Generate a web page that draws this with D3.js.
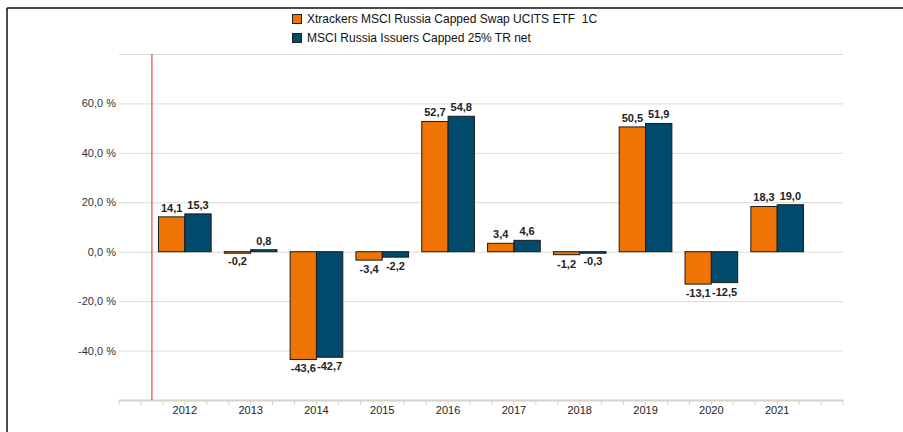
<!DOCTYPE html>
<html><head><meta charset="utf-8">
<script src="https://cdn.jsdelivr.net/npm/d3@7"></script>
<style>body{margin:0;background:#fff}svg{display:block;font-family:"Liberation Sans",Arial,sans-serif}text{white-space:pre}</style>
</head><body><svg id="c" width="903" height="432"></svg>
<script>
const categories = ["2012","2013","2014","2015","2016","2017","2018","2019","2020","2021"];
const seriesNames = ["Xtrackers MSCI Russia Capped Swap UCITS ETF  1C","MSCI Russia Issuers Capped 25% TR net"];
const etfValues = [14.1,-0.2,-43.6,-3.4,52.7,3.4,-1.2,50.5,-13.1,18.3];
const indexValues = [15.3,0.8,-42.7,-2.2,54.8,4.6,-0.3,51.9,-12.5,19.0];
const yTicks = [-40,-20,0,20,40,60];
const gridTicks = [-40,-20,0,20,40,60,80];
const colors = ["#ef7404","#024a6c"];

const fmt = d => d3.format(".1f")(d).replace("−","-").replace(".",",");
const svg = d3.select("#c");
const L = 119, R = 843, T = 54, B = 400;
const y = d3.scaleLinear().domain([-60,80]).range([B,T]);
const x = d3.scaleLinear().domain([-1,categories.length]).range([L,R]);
const step = x(1)-x(0);
const bw = step*0.4;

// frame
svg.append("line").attr("x1",7).attr("x2",7).attr("y1",8).attr("y2",432).attr("stroke","#111").attr("stroke-width",1.5);
svg.append("line").attr("x1",7).attr("x2",903).attr("y1",8).attr("y2",8).attr("stroke","#111").attr("stroke-width",1.5);

// grid
svg.append("g").selectAll("line").data(gridTicks).join("line")
  .attr("x1",L).attr("x2",R).attr("y1",d=>y(d)+0.5).attr("y2",d=>y(d)+0.5)
  .attr("stroke","#dcdad3").attr("stroke-width",1);

// y labels
svg.append("g").selectAll("text").data(yTicks).join("text")
  .attr("x",116).attr("y",d=>y(d)+4).attr("text-anchor","end")
  .attr("font-size",11).attr("fill","#333")
  .text(d=>fmt(d)+" %");

// bottom axis
const minor = d3.range(0, categories.length*3+3+1).map(i=>L+i*step/3);
svg.append("g").selectAll("line").data(minor).join("line")
  .attr("x1",d=>d).attr("x2",d=>d).attr("y1",B).attr("y2",B+5)
  .attr("stroke","#d6d2c8").attr("stroke-width",1);
svg.append("line").attr("x1",L).attr("x2",R).attr("y1",B+0.5).attr("y2",B+0.5).attr("stroke","#d6d2c8").attr("stroke-width",2);
svg.append("g").selectAll("text").data(categories).join("text")
  .attr("x",(d,i)=>x(i)).attr("y",B+14).attr("text-anchor","middle")
  .attr("font-size",11).attr("fill","#222").text(d=>d);

// red line
svg.append("line").attr("x1",x(-0.5)).attr("x2",x(-0.5)).attr("y1",T).attr("y2",B)
  .attr("stroke","#e8433e").attr("stroke-width",1.2);

// bars
const series = [etfValues, indexValues];
series.forEach((vals,s)=>{
  const g = svg.append("g");
  g.selectAll("rect").data(vals).join("rect")
    .attr("x",(d,i)=>x(i)-bw+s*bw)
    .attr("y",d=>y(Math.max(0,d)))
    .attr("width",bw)
    .attr("height",d=>Math.max(1.5,Math.abs(y(d)-y(0))))
    .attr("fill",colors[s]).attr("stroke","#1a1a1a").attr("stroke-width",1);
  g.selectAll("text").data(vals).join("text")
    .attr("x",(d,i)=>x(i)-bw/2+s*bw)
    .attr("y",d=>d>=0? y(d)-5 : y(d)+13)
    .attr("text-anchor","middle").attr("font-size",11).attr("font-weight","bold").attr("fill","#222")
    .text(d=>fmt(d));
});

// legend
const lg = svg.append("g");
seriesNames.forEach((n,i)=>{
  lg.append("rect").attr("x",292.5).attr("y",14.5+i*19).attr("width",9).attr("height",9)
    .attr("fill",colors[i]).attr("stroke","#222").attr("stroke-width",1);
  lg.append("text").attr("x",307).attr("y",23+i*19).attr("font-size",12).attr("fill","#111").text(n);
});
</script></body></html>
